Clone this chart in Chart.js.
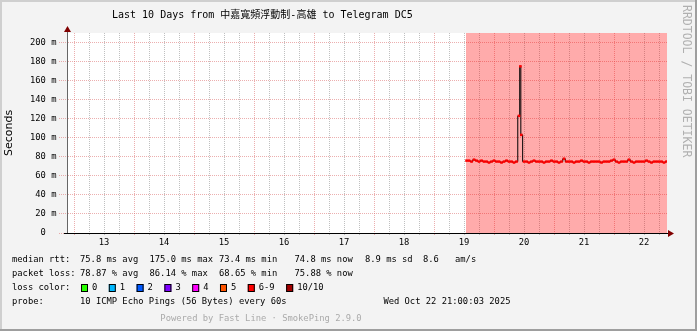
<!DOCTYPE html>
<html>
<head>
<meta charset="utf-8">
<script src="https://cdn.jsdelivr.net/npm/chart.js@4/dist/chart.umd.min.js"></script>
<style>
html, body { margin: 0; padding: 0; background: #f3f3f3; }
canvas { display: block; }
</style>
</head>
<body>
<canvas id="graph" width="697" height="331"></canvas>
<script>
// values
const titleText = 'Last 10 Days from 中嘉寬頻浮動制-高雄 to Telegram DC5';
const yTitle = 'Seconds';
const watermark = 'RRDTOOL / TOBI OETIKER';

// days of October on the time axis (label sits at noon)
const dayLabels = [13, 14, 15, 16, 17, 18, 19, 20, 21, 22];
const rttLabels = [0, 20, 40, 60, 80, 100, 120, 140, 160, 180, 200];

// hours after Oct 19 00:00, and the median rtt in ms
const sampleHour = [
    13, 14, 15, 16, 17, 18, 19, 20, 21, 22, 23, 24, 25, 26, 27, 28, 29, 30, 31, 32, 33,
    34, 34.55, 34.9,
    36, 37, 38, 39, 40, 41, 42, 43, 44, 45,
    46, 47, 48, 49, 50, 51, 52, 53, 54, 55,
    56, 57, 58, 59, 60, 61, 62, 63, 64, 65,
    66, 67, 68, 69, 70, 71, 72, 73, 74, 75,
    76, 77, 78, 79, 80, 81, 82, 83, 84, 85,
    86, 87, 88, 89, 90, 91, 92, 93
];
const medianMs = [
    76, 76, 75, 77, 76, 75, 76, 75, 75, 74, 75, 76, 75, 75, 74, 75, 76, 75, 75, 74, 75,
    123, 175, 103,
    75, 75, 74, 75, 76, 75, 75, 75, 74, 75,
    75, 76, 75, 75, 74, 75, 78, 75, 75, 75,
    74, 75, 75, 76, 75, 75, 74, 75, 75, 75,
    75, 74, 75, 75, 75, 76, 77, 75, 74, 75,
    75, 75, 77, 75, 74, 75, 75, 75, 75, 76,
    75, 74, 75, 75, 75, 75, 74, 75
];

// period (in October days) where 6-9 of 10 pings were lost
const lossSpan = [19.533, 22.883];
const timeRange = [12.883, 22.883];
const rttMax = 210;

const rttStats = ['75.8 ms avg', '175.0 ms max', '73.4 ms min', '74.8 ms now', '8.9 ms sd', '8.6', 'am/s'];
const lossStats = ['78.87 % avg', '86.14 % max', '68.65 % min', '75.88 % now'];
const lossNames = ['0', '1', '2', '3', '4', '5', '6-9', '10/10'];
const lossColors = ['#26ff00', '#00b8ff', '#0059ff', '#7e00ff', '#ff00ff', '#ff5500', '#ff0000', '#a10000'];
const probeText = '10 ICMP Echo Pings (56 Bytes) every 60s';
const stampText = 'Wed Oct 22 21:00:03 2025';
const poweredText = 'Powered by Fast Line \u00b7 SmokePing 2.9.0';

const MONO = '"DejaVu Sans Mono", "Noto Sans CJK TC", monospace';
const MAJOR = 'rgba(220, 110, 110, 0.55)';
const MINOR = 'rgba(140, 140, 140, 0.55)';

Chart.defaults.font.family = MONO;
Chart.defaults.font.size = 8.8;
Chart.defaults.color = '#000';

function txt(ctx, s, x, y, align, color, font) {
    ctx.font = font || '8.8px ' + MONO;
    ctx.fillStyle = color || '#000';
    ctx.textAlign = align || 'left';
    ctx.textBaseline = 'middle';
    ctx.fillText(s, x, y);
}

const smokeFrame = {
    id: 'smokeFrame',
    beforeDraw(chart) {
        const ctx = chart.ctx, a = chart.chartArea, w = chart.width, h = chart.height;
        ctx.save();
        ctx.fillStyle = '#f3f3f3';
        ctx.fillRect(0, 0, w, h);
        ctx.fillStyle = '#cfcfcf';
        ctx.fillRect(0, 0, w, 2);
        ctx.fillRect(0, 0, 2, h);
        ctx.fillStyle = '#9e9e9e';
        ctx.fillRect(0, h - 2, w, 2);
        ctx.fillRect(w - 2, 0, 2, h);
        ctx.fillStyle = '#fff';
        ctx.fillRect(a.left, a.top, a.width, a.height);
        ctx.restore();
    },
    afterDraw(chart) {
        const ctx = chart.ctx, a = chart.chartArea;
        ctx.save();
        // axis arrows
        ctx.strokeStyle = '#000';
        ctx.lineWidth = 1;
        ctx.beginPath();
        ctx.moveTo(a.left - 3, a.bottom + 0.5);
        ctx.lineTo(a.right + 2, a.bottom + 0.5);
        ctx.stroke();
        ctx.strokeStyle = '#666';
        ctx.beginPath();
        ctx.moveTo(a.left + 0.5, a.top);
        ctx.lineTo(a.left + 0.5, a.top - 4);
        ctx.stroke();
        ctx.fillStyle = '#800000';
        ctx.beginPath();
        ctx.moveTo(a.left - 3, a.top - 1);
        ctx.lineTo(a.left + 4, a.top - 1);
        ctx.lineTo(a.left + 0.5, a.top - 7);
        ctx.closePath();
        ctx.fill();
        ctx.beginPath();
        ctx.moveTo(a.right + 1, a.bottom - 3);
        ctx.lineTo(a.right + 1, a.bottom + 4);
        ctx.lineTo(a.right + 7, a.bottom + 0.5);
        ctx.closePath();
        ctx.fill();

        // title and watermark
        txt(ctx, titleText, 112, 15, 'left', '#000', '10px ' + MONO);
        ctx.save();
        ctx.translate(685.5, 5);
        ctx.rotate(Math.PI / 2);
        ctx.font = '11.5px ' + MONO;
        ctx.fillStyle = '#b0b0b0';
        ctx.textAlign = 'left';
        ctx.textBaseline = 'middle';
        ctx.fillText(watermark, 0, 0);
        ctx.restore();

        // smokeping legend
        const cols = [80, 149.5, 219, 294.5, 365, 423, 455];
        txt(ctx, 'median rtt:', 12, 259.5);
        rttStats.forEach((s, i) => txt(ctx, s, cols[i], 259.5));
        txt(ctx, 'packet loss:', 12, 273.5);
        lossStats.forEach((s, i) => txt(ctx, s, cols[i], 273.5));
        txt(ctx, 'loss color:', 12, 287.5);
        let bx = 81;
        lossNames.forEach((s, i) => {
            ctx.fillStyle = lossColors[i];
            ctx.fillRect(bx, 284, 7, 8);
            ctx.strokeStyle = '#000';
            ctx.lineWidth = 1;
            ctx.strokeRect(bx + 0.5, 284.5, 6, 7);
            txt(ctx, s, bx + 11, 287.5);
            bx += 11 + ctx.measureText(s).width + 11.5;
        });
        txt(ctx, 'probe:', 12, 301.5);
        txt(ctx, probeText, 80, 301.5);
        txt(ctx, stampText, 510.5, 301.5, 'right');
        txt(ctx, poweredText, 261, 318.5, 'center', '#aaaaaa');
        ctx.restore();
    }
};

const points = sampleHour.map((h, i) => ({x: 19 + h / 24, y: medianMs[i]}));

new Chart(document.getElementById('graph').getContext('2d'), {
    type: 'line',
    data: {
        datasets: [
            {
                // loss coloured median, one short dash per sample
                data: points,
                showLine: false,
                pointStyle: 'line',
                pointRadius: 1.3,
                pointBorderWidth: 2.5,
                pointBorderColor: lossColors[6],
                order: 0
            },
            {
                data: points,
                stepped: 'middle',
                borderColor: '#000',
                borderWidth: 1,
                pointRadius: 0,
                order: 1
            },
            {
                data: [{x: lossSpan[0], y: rttMax}, {x: lossSpan[1], y: rttMax}],
                borderWidth: 0,
                pointRadius: 0,
                fill: 'origin',
                backgroundColor: 'rgba(255, 0, 0, 0.33)',
                order: 2
            }
        ]
    },
    options: {
        responsive: false,
        animation: false,
        events: [],
        layout: {padding: {left: 0, top: 33, right: 30, bottom: 0}},
        plugins: {legend: {display: false}, tooltip: {enabled: false}},
        scales: {
            x: {
                type: 'linear',
                min: timeRange[0],
                max: timeRange[1],
                afterBuildTicks: (axis) => {
                    const t = [];
                    for (let q = dayLabels[0] * 4; q < (dayLabels[dayLabels.length - 1] + 1) * 4; q++) {
                        t.push({value: q / 4});
                    }
                    axis.ticks = t;
                },
                afterFit: (axis) => { axis.height = 98; },
                grid: {
                    color: (c) => c.tick && Number.isInteger(c.tick.value) ? MAJOR : MINOR,
                    tickColor: (c) => c.tick && Number.isInteger(c.tick.value) ? MAJOR : MINOR,
                    tickBorderDash: [1, 1],
                    tickLength: 3
                },
                border: {color: '#000', width: 1, dash: [1, 1]},
                ticks: {
                    autoSkip: false,
                    maxRotation: 0,
                    padding: 1,
                    labelOffset: 30,
                    callback: (v) => dayLabels.includes(v) ? String(v) : ''
                }
            },
            y: {
                type: 'linear',
                min: 0,
                max: rttMax,
                afterBuildTicks: (axis) => {
                    const t = [];
                    for (let v = 0; v <= rttMax; v += 10) t.push({value: v});
                    axis.ticks = t;
                },
                afterFit: (axis) => { axis.width = 67; },
                grid: {
                    color: (c) => c.tick && c.tick.value % 20 === 0 ? MAJOR : MINOR,
                    tickColor: (c) => c.tick && c.tick.value % 20 === 0 ? MAJOR : MINOR,
                    tickBorderDash: [1, 1],
                    tickLength: 8
                },
                border: {color: '#666', width: 1, dash: [1, 1]},
                title: {
                    display: true,
                    text: yTitle,
                    font: {family: '"DejaVu Sans"', size: 11},
                    padding: {top: 3, bottom: 0}
                },
                ticks: {
                    padding: 2.5,
                    callback: (v) => rttLabels.includes(v) ? (v === 0 ? '0  ' : v + ' m') : ''
                }
            }
        }
    },
    plugins: [smokeFrame]
});
</script>
</body>
</html>
